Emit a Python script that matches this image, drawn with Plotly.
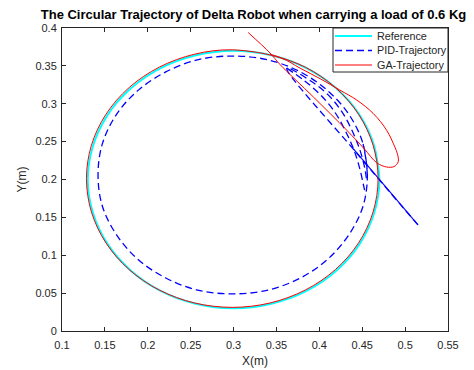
import plotly.graph_objects as go

# ---------------- data ----------------
# Reference circle (cyan)
ref_x = [0.470, 0.464, 0.447, 0.420, 0.385, 0.344, 0.300, 0.256, 0.215, 0.180, 0.153, 0.136,
         0.130, 0.136, 0.153, 0.180, 0.215, 0.256, 0.300, 0.344, 0.385, 0.420, 0.447, 0.464,
         0.470, 0.464]
ref_y = [0.200, 0.244, 0.285, 0.320, 0.347, 0.364, 0.370, 0.364, 0.347, 0.320, 0.285, 0.244,
         0.200, 0.156, 0.115, 0.080, 0.053, 0.036, 0.030, 0.036, 0.053, 0.080, 0.115, 0.156,
         0.200, 0.244]

# PID trajectory: steady loop (dashed blue)
pid_loop_x = [0.456, 0.451, 0.435, 0.410, 0.378, 0.340, 0.299, 0.258, 0.221, 0.188, 0.163, 0.147,
              0.142, 0.147, 0.163, 0.188, 0.221, 0.258, 0.299, 0.340, 0.378, 0.410, 0.435, 0.451,
              0.456, 0.451]
pid_loop_y = [0.206, 0.247, 0.285, 0.317, 0.342, 0.358, 0.363, 0.358, 0.342, 0.317, 0.285, 0.247,
              0.206, 0.165, 0.128, 0.095, 0.070, 0.054, 0.049, 0.054, 0.070, 0.095, 0.128, 0.165,
              0.206, 0.247]
# PID start transient: jump from start point, then first descent
pid_start_x = [0.515, 0.445, 0.362, 0.390, 0.410, 0.426, 0.438, 0.447, 0.453, 0.455]
pid_start_y = [0.140, 0.233, 0.347, 0.330, 0.312, 0.290, 0.265, 0.240, 0.215, 0.200]
# PID second transient arc
pid_arc_x = [0.362, 0.383, 0.402, 0.418, 0.430, 0.440, 0.447, 0.452, 0.454]
pid_arc_y = [0.347, 0.330, 0.311, 0.289, 0.265, 0.240, 0.215, 0.190, 0.180]
# fast start segment of PID (appears solid)
pid_jump_x = [0.515, 0.440]
pid_jump_y = [0.140, 0.240]

# GA trajectory: start transient loop, then circle
ga_x = [0.317, 0.3425, 0.354, 0.393, 0.432, 0.452, 0.467, 0.4785, 0.487, 0.492, 0.491, 0.488,
        0.4785, 0.463, 0.4435, 0.424, 0.401, 0.3775, 0.355,
        0.2985, 0.2545, 0.2135, 0.1783, 0.1513, 0.1343, 0.1285, 0.1343, 0.1513, 0.1783,
        0.2135, 0.2545, 0.2985, 0.3425, 0.3835, 0.4187, 0.4457, 0.4627, 0.4685, 0.4627,
        0.4457, 0.4187, 0.3835, 0.3425]
ga_y = [0.394, 0.367, 0.352, 0.309, 0.265, 0.241, 0.222, 0.2165, 0.217, 0.2235, 0.234, 0.243,
        0.265, 0.287, 0.305, 0.318, 0.333, 0.347, 0.3605,
        0.3712, 0.3654, 0.3484, 0.3214, 0.2862, 0.2452, 0.2012, 0.1572, 0.1162, 0.0810,
        0.0540, 0.0370, 0.0312, 0.0370, 0.0540, 0.0810, 0.1162, 0.1572, 0.2012, 0.2452,
        0.2862, 0.3214, 0.3484, 0.3654]

x_ticks = [0.1, 0.15, 0.2, 0.25, 0.3, 0.35, 0.4, 0.45, 0.5, 0.55]
y_ticks = [0, 0.05, 0.1, 0.15, 0.2, 0.25, 0.3, 0.35, 0.4]

legend_names = ["Reference", "PID-Trajectory", "GA-Trajectory"]

# ---------------- figure ----------------
FONT = "Liberation Sans, Arial, Helvetica, sans-serif"
AX = "#262626"
C_REF, C_PID, C_GA = "#00FFFF", "#0000FF", "#FF0000"
W, H = 474, 370
ML, MR, MT, MB = 62, 26, 28, 39
PW, PH = W - ML - MR, H - MT - MB

def px_x(p):  # pixel -> paper x
    return (p - ML) / PW

def px_y(p):  # pixel -> paper y
    return (H - MB - p) / PH

pid_x = pid_loop_x + [None] + pid_start_x + [None] + pid_arc_x
pid_y = pid_loop_y + [None] + pid_start_y + [None] + pid_arc_y

PID_DASH = "7px,4px"

fig = go.Figure()
fig.add_trace(go.Scatter(x=ref_x, y=ref_y, mode="lines", name=legend_names[0],
                         line=dict(color=C_REF, width=2, shape="spline")))
fig.add_trace(go.Scatter(x=pid_x, y=pid_y, mode="lines", name=legend_names[1],
                         connectgaps=False,
                         line=dict(color=C_PID, width=1.3, dash=PID_DASH, shape="spline")))
fig.add_trace(go.Scatter(x=pid_jump_x, y=pid_jump_y, mode="lines", showlegend=False,
                         hoverinfo="skip",
                         line=dict(color=C_PID, width=1.1)))
fig.add_trace(go.Scatter(x=ga_x, y=ga_y, mode="lines", name=legend_names[2],
                         line=dict(color=C_GA, width=1, shape="spline")))

axis_common = dict(showgrid=False, zeroline=False, showline=True, linecolor=AX, linewidth=1,
                   mirror="ticks", ticks="inside", ticklen=4, tickcolor=AX, automargin=False,
                   tickfont=dict(family=FONT, size=11, color=AX))

fig.update_xaxes(range=[0.1, 0.55], tickvals=x_ticks, ticktext=[f"{v:g}" for v in x_ticks],
                 ticklabelstandoff=4,
                 title=dict(text="X(m)", font=dict(family=FONT, size=12, color=AX), standoff=6),
                 **axis_common)
fig.update_yaxes(range=[0, 0.4], tickvals=y_ticks, ticktext=[f"{v:g}" for v in y_ticks],
                 ticklabelstandoff=2,
                 title=dict(text="Y(m)", font=dict(family=FONT, size=12, color=AX), standoff=6),
                 **axis_common)

# MATLAB-style compact legend box (top-right inside the axes)
box_l, box_r, box_t, box_b = 333, 448, 28, 72
line_l, line_r, text_l = 335, 372, 375
rows = [36, 50.5, 65]
shapes = [dict(type="rect", xref="paper", yref="paper",
               x0=px_x(box_l), x1=px_x(box_r), y0=px_y(box_b), y1=px_y(box_t),
               fillcolor="white", line=dict(color=AX, width=1), layer="above")]
styles = [dict(color=C_REF, width=2), dict(color=C_PID, width=1.3, dash=PID_DASH),
          dict(color=C_GA, width=1)]
annotations = []
for r, st, name in zip(rows, styles, legend_names):
    shapes.append(dict(type="line", xref="paper", yref="paper",
                       x0=px_x(line_l), x1=px_x(line_r), y0=px_y(r), y1=px_y(r),
                       line=st, layer="above"))
    annotations.append(dict(text=name, xref="paper", yref="paper", x=px_x(text_l), y=px_y(r),
                            xanchor="left", yanchor="middle", showarrow=False,
                            font=dict(family=FONT, size=10.8, color=AX)))

fig.update_layout(
    width=W, height=H,
    margin=dict(l=ML, r=MR, t=MT, b=MB, autoexpand=False),
    paper_bgcolor="white", plot_bgcolor="white",
    title=dict(text="<b>The Circular Trajectory of Delta Robot when carrying a load of 0.6 Kg</b>",
               font=dict(family=FONT, size=13, color="black"),
               x=253.5 / W, xanchor="center", y=1 - 14 / H, yanchor="middle"),
    showlegend=False,
    shapes=shapes,
    annotations=annotations,
)

fig.write_html("out.html")
